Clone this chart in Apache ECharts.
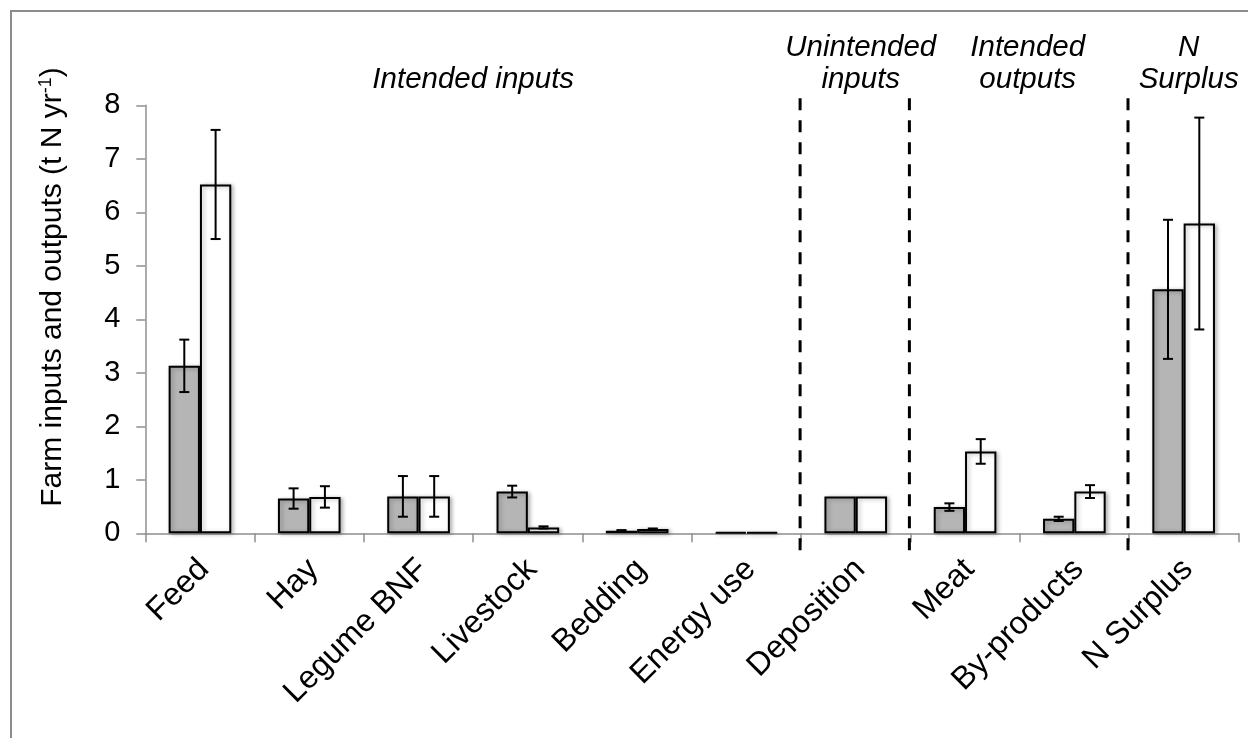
<!DOCTYPE html>
<html>
<head>
<meta charset="utf-8">
<script src="https://cdn.jsdelivr.net/npm/echarts@6/dist/echarts.min.js"></script>
<style>
  html, body { margin: 0; padding: 0; background: #fff; }
  #chart { width: 1248px; height: 738px; }
</style>
</head>
<body>
<div id="chart"></div>
<script>
// Farm nitrogen budget: two farm groups (grey / white bars) with error bars
const categories = ['Feed', 'Hay', 'Legume BNF', 'Livestock', 'Bedding', 'Energy use',
                    'Deposition', 'Meat', 'By-products', 'N Surplus'];
const greyValues = [3.13, 0.65, 0.69, 0.78, 0.05, 0.02, 0.69, 0.49, 0.27, 4.56];
const whiteValues = [6.52, 0.68, 0.69, 0.11, 0.08, 0.02, 0.69, 1.53, 0.78, 5.79];
const greyErrors = [0.49, 0.19, 0.38, 0.11, 0.01, 0, 0, 0.07, 0.04, 1.30];
const whiteErrors = [1.02, 0.20, 0.38, 0.02, 0.01, 0, 0, 0.23, 0.12, 1.98];
const yTicks = [0, 1, 2, 3, 4, 5, 6, 7, 8];

// Section headings: [first category, last category, text, horizontal nudge in px]
const sectionFirst = [0, 6, 7, 9];
const sectionLast = [5, 6, 8, 9];
const sectionTexts = ['Intended inputs', 'Unintended\ninputs', 'Intended\noutputs', 'N\nSurplus'];
const sectionNudge = [0, 5, 8, 5];
// Dashed separators sit after these category indices
const separatorsAfter = [5, 6, 8];

const FONT = '"Liberation Sans", Arial, Helvetica, sans-serif';
const CAT_GAP = 0.427;
const AXIS_GREY = '#8f8f8f';

const chart = echarts.init(document.getElementById('chart'), null, { renderer: 'canvas' });

function barShift(api, side) {
  const band = api.size([1, 0])[0];
  const bw = band * (1 - CAT_GAP) / 2;
  return side * bw / 2;
}

function errorBars(side) {
  return function (params, api) {
    const i = api.value(0), v = api.value(1), e = api.value(2);
    if (!e) return null;
    const x = api.coord([i, 0])[0] + barShift(api, side);
    const yHi = api.coord([i, v + e])[1];
    const yLo = api.coord([i, v - e])[1];
    const cap = 5;
    const st = { stroke: '#000', lineWidth: 2 };
    return {
      type: 'group',
      children: [
        { type: 'line', shape: { x1: x, y1: yHi, x2: x, y2: yLo }, style: st },
        { type: 'line', shape: { x1: x - cap, y1: yHi, x2: x + cap, y2: yHi }, style: st },
        { type: 'line', shape: { x1: x - cap, y1: yLo, x2: x + cap, y2: yLo }, style: st }
      ]
    };
  };
}

const barShadow = {
  shadowColor: 'rgba(0,0,0,0.28)', shadowBlur: 4, shadowOffsetX: 2, shadowOffsetY: 1
};

const option = {
  animation: false,
  backgroundColor: '#fff',
  grid: { left: 145.3, right: 9.7, top: 105.3, bottom: 204.7, containLabel: false, outerBoundsMode: 'none' },
  xAxis: {
    type: 'category',
    data: categories,
    boundaryGap: true,
    axisLine: { lineStyle: { color: AXIS_GREY, width: 1.5 } },
    axisTick: { show: true, length: 9, lineStyle: { color: AXIS_GREY, width: 1.5 } },
    axisLabel: {
      interval: 0, rotate: 45, margin: 27, align: 'right', verticalAlign: 'top',
      fontFamily: FONT, fontSize: 32, color: '#000', lineHeight: 12
    },
    splitLine: { show: false }
  },
  yAxis: {
    type: 'value',
    min: yTicks[0], max: yTicks[yTicks.length - 1], interval: 1,
    axisLine: { show: true, lineStyle: { color: AXIS_GREY, width: 1.5 } },
    axisTick: { show: true, length: 9, lineStyle: { color: AXIS_GREY, width: 1.5 } },
    axisLabel: { margin: 25, fontFamily: FONT, fontSize: 29, color: '#000' },
    splitLine: { show: false }
  },
  graphic: [
    {
      type: 'rect', silent: true, z: -1,
      shape: { x: 11, y: 11, width: 1300, height: 800 },
      style: { fill: 'none', stroke: '#8c8c8c', lineWidth: 2 }
    },
    {
      type: 'text', silent: true, rotation: Math.PI / 2, x: 53, y: 287,
      style: {
        text: 'Farm inputs and outputs (t N yr{sup|-1})',
        font: '30px ' + FONT, fill: '#000',
        align: 'center', verticalAlign: 'middle',
        rich: { sup: { fontSize: 18, fontFamily: FONT, verticalAlign: 'top', lineHeight: 32 } }
      }
    }
  ],
  series: [
    {
      type: 'bar', data: greyValues, barGap: '0%', barCategoryGap: (CAT_GAP * 100) + '%',
      itemStyle: Object.assign({ color: '#b5b5b5', borderColor: '#000', borderWidth: 2 }, barShadow),
      z: 2
    },
    {
      type: 'bar', data: whiteValues, barGap: '0%', barCategoryGap: (CAT_GAP * 100) + '%',
      itemStyle: Object.assign({ color: '#fff', borderColor: '#000', borderWidth: 2 }, barShadow),
      z: 2
    },
    {
      type: 'custom', z: 5, clip: false,
      renderItem: errorBars(-1),
      data: greyValues.map((v, i) => [i, v, greyErrors[i]])
    },
    {
      type: 'custom', z: 5, clip: false,
      renderItem: errorBars(1),
      data: whiteValues.map((v, i) => [i, v, whiteErrors[i]])
    },
    {
      // dashed separators between sections
      type: 'custom', z: 6, clip: false, silent: true,
      renderItem: function (params, api) {
        const i = api.value(0);
        const band = api.size([1, 0])[0];
        const x = api.coord([i, 0])[0] + band / 2 - 1;
        const yTop = api.coord([i, yTicks[yTicks.length - 1]])[1] - 7;
        const yBot = api.coord([i, 0])[1] + 23;
        return {
          type: 'line',
          shape: { x1: x, y1: yTop, x2: x, y2: yBot },
          style: { stroke: '#000', lineWidth: 3, lineDash: [12, 10] }
        };
      },
      data: separatorsAfter.map(i => [i, 0])
    },
    {
      // section headings above the plot
      type: 'custom', z: 6, clip: false, silent: true,
      renderItem: function (params, api) {
        const k = params.dataIndex;
        const a = api.value(0), b = api.value(1);
        const x = (api.coord([a, 0])[0] + api.coord([b, 0])[0]) / 2 + sectionNudge[k];
        const top = api.coord([a, yTicks[yTicks.length - 1]])[1];
        const twoLines = sectionTexts[k].indexOf('\n') >= 0;
        return {
          type: 'text',
          x: x, y: twoLines ? top - 42 : top - 26,
          style: {
            text: sectionTexts[k],
            font: 'italic 29.5px ' + FONT, fill: '#000',
            align: 'center', verticalAlign: 'middle', lineHeight: 32
          }
        };
      },
      data: sectionFirst.map((f, k) => [f, sectionLast[k]])
    }
  ]
};

chart.setOption(option);
</script>
</body>
</html>
